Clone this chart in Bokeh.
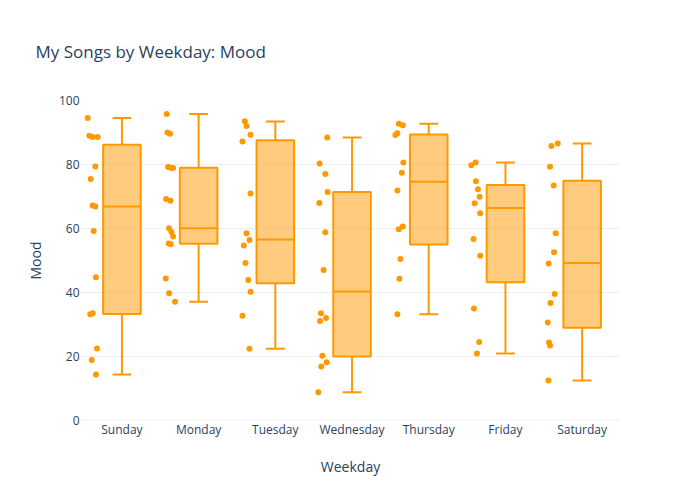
import numpy as np
from bokeh.plotting import figure
from bokeh.models import Range1d, FixedTicker, Span
from bokeh.embed import file_html
from bokeh.resources import INLINE

days = ["Sunday", "Monday", "Tuesday", "Wednesday", "Thursday", "Friday", "Saturday"]

sunday = [94.5, 89.0, 88.6, 88.6, 79.4, 75.5, 67.2, 66.9, 59.2, 44.8, 33.5, 33.2, 22.5, 18.9, 14.4]
monday = [95.8, 90.0, 89.6, 79.2, 79.0, 78.9, 69.2, 68.7, 60.1, 58.9, 57.5, 55.3, 55.1, 44.4, 39.8, 37.1]
tuesday = [93.5, 92.0, 89.3, 87.2, 70.9, 58.5, 56.4, 54.7, 49.2, 43.9, 40.2, 32.7, 22.4]
wednesday = [88.4, 80.3, 77.0, 71.4, 68.0, 58.8, 47.0, 33.5, 32.0, 31.1, 20.2, 18.2, 16.9, 8.8]
thursday = [92.7, 92.3, 89.8, 89.2, 80.6, 77.4, 71.9, 60.6, 59.8, 50.5, 44.3, 33.2]
friday = [80.6, 79.8, 74.8, 72.3, 69.9, 67.9, 64.8, 56.7, 51.5, 35.0, 24.5, 20.9]
saturday = [86.6, 85.8, 79.3, 73.4, 58.5, 52.6, 49.1, 39.5, 36.7, 30.6, 24.4, 23.4, 12.5]

# horizontal scatter of each point (-1 .. 1)
sunday_jit = [-0.95, -0.68, -0.12, 0.72, 0.32, -0.45, -0.12, 0.32, 0.05, 0.43, -0.12, -0.52, 0.6, -0.28, 0.43]
monday_jit = [-0.57, -0.45, 0.0, -0.33, 0.1, 0.5, -0.67, 0.05, -0.17, 0.22, 0.5, -0.22, 0.1, -0.72, -0.17, 0.83]
tuesday_jit = [-0.33, -0.05, 0.62, -0.72, 0.62, -0.05, 0.45, -0.5, -0.22, 0.23, 0.62, -0.72, 0.45]
wednesday_jit = [0.63, -0.65, 0.3, 0.68, -0.7, 0.3, 0.02, -0.42, 0.42, -0.58, -0.2, 0.52, -0.37, -0.87]
thursday_jit = [-0.23, 0.43, -0.47, -0.8, 0.53, 0.27, -0.47, 0.43, -0.23, 0.03, -0.13, -0.47]
friday_jit = [-0.22, -0.95, -0.17, 0.17, 0.45, -0.38, 0.55, -0.55, 0.55, -0.5, 0.38, 0.0]
saturday_jit = [0.68, -0.37, -0.6, 0.02, 0.35, 0.07, -0.82, 0.18, -0.53, -0.98, -0.77, -0.6, -0.87]

# box statistics
q1 = [33.3, 55.2, 42.9, 20.0, 55.0, 43.2, 29.0]
median = [66.9, 60.1, 56.6, 40.3, 74.6, 66.4, 49.2]
q3 = [86.2, 79.0, 87.6, 71.4, 89.4, 73.6, 74.9]
lower = [14.4, 37.1, 22.4, 8.8, 33.2, 20.9, 12.5]
upper = [94.5, 95.8, 93.4, 88.4, 92.7, 80.6, 86.6]

mood = [sunday, monday, tuesday, wednesday, thursday, friday, saturday]
jit = [sunday_jit, monday_jit, tuesday_jit, wednesday_jit, thursday_jit, friday_jit, saturday_jit]

ORANGE = "#FF9900"
TXT = "#2a3f5f"
GRID = "#EBF0F8"
FONT = "Open Sans"

p = figure(width=684, height=484, output_backend="svg", toolbar_location=None,
           x_range=Range1d(-0.54, 6.5), y_range=Range1d(0, 100),
           min_border_left=80, min_border_right=64, min_border_top=100, min_border_bottom=64,
           title="My Songs by Weekday: Mood")
p.outline_line_color = None
p.background_fill_color = "white"
p.border_fill_color = "white"
p.title.text_font = FONT
p.title.text_font_size = "17px"
p.title.text_font_style = "normal"
p.title.text_color = TXT
p.title.offset = -45
p.title.standoff = 75

pos = np.arange(len(days), dtype=float)
bw = 0.49

p.add_layout(Span(location=0, dimension="width", line_color=GRID, line_width=2))

p.segment(x0=pos, y0=q3, x1=pos, y1=upper, line_color=ORANGE, line_width=2)
p.segment(x0=pos, y0=q1, x1=pos, y1=lower, line_color=ORANGE, line_width=2)
p.segment(x0=pos - bw / 4, y0=upper, x1=pos + bw / 4, y1=upper, line_color=ORANGE, line_width=2)
p.segment(x0=pos - bw / 4, y0=lower, x1=pos + bw / 4, y1=lower, line_color=ORANGE, line_width=2)
p.vbar(x=pos, width=bw, bottom=q1, top=q3, fill_color=ORANGE, fill_alpha=0.5,
       line_color=ORANGE, line_width=2)
p.segment(x0=pos - bw / 2, y0=median, x1=pos + bw / 2, y1=median, line_color=ORANGE, line_width=2)

px, py = [], []
for i, (vals, js) in enumerate(zip(mood, jit)):
    for v, j in zip(vals, js):
        px.append(i - 0.372 + 0.078 * j)
        py.append(v)
p.scatter(px, py, size=6, fill_color=ORANGE, line_color=ORANGE, line_width=0)

# axes
p.xaxis.ticker = FixedTicker(ticks=list(range(len(days))))
p.xaxis.major_label_overrides = {i: d for i, d in enumerate(days)}
p.yaxis.ticker = FixedTicker(ticks=[0, 20, 40, 60, 80, 100])
for ax in (p.xaxis[0], p.yaxis[0]):
    ax.axis_line_color = None
    ax.major_tick_line_color = None
    ax.minor_tick_line_color = None
    ax.major_tick_out = 0
    ax.major_tick_in = 0
    ax.minor_tick_out = 0
    ax.minor_tick_in = 0
    ax.major_label_text_font = FONT
    ax.major_label_text_font_size = "12px"
    ax.major_label_text_color = TXT
    ax.axis_label_text_font = FONT
    ax.axis_label_text_font_size = "14px"
    ax.axis_label_text_color = TXT
    ax.axis_label_text_font_style = "normal"
p.xaxis.axis_label = "Weekday"
p.yaxis.axis_label = "Mood"
p.xaxis.major_label_standoff = 0
p.yaxis.major_label_standoff = 1
p.xaxis.axis_label_standoff = 16
p.yaxis.axis_label_standoff = 11

p.xgrid.grid_line_color = None
p.ygrid.grid_line_color = GRID
p.ygrid.grid_line_width = 1

open("out.html", "w").write(file_html(p, INLINE))
